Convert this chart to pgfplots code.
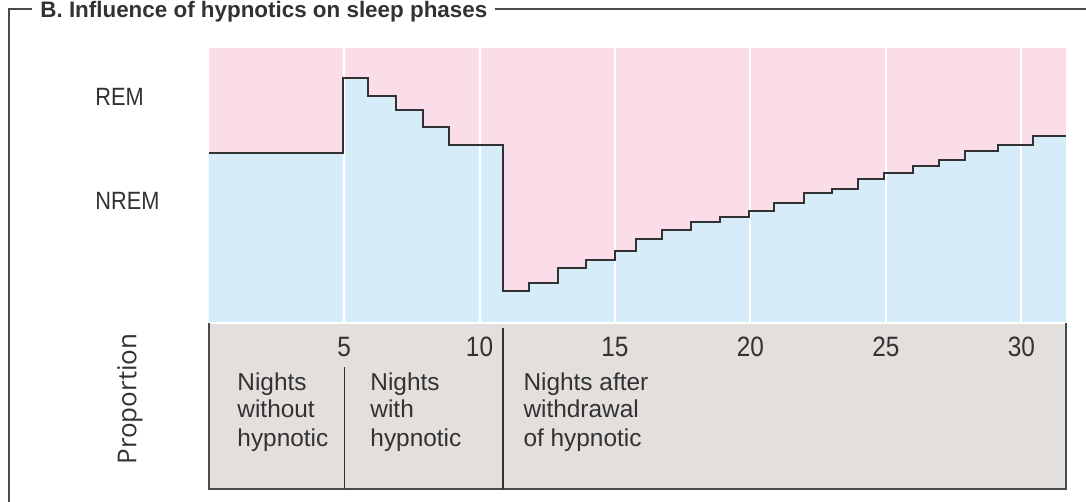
\documentclass[border=0pt]{standalone}
\usepackage{fontspec}
\setmainfont{Liberation Sans}
\newfontfamily\condfont{Liberation Sans}[FakeStretch=0.87]
\newfontfamily\propfont{Open Sans}
\usepackage{pgfplots}
\pgfplotsset{compat=1.18}
\definecolor{remp}{RGB}{251,221,233}
\definecolor{nremb}{RGB}{214,236,249}
\definecolor{boxg}{RGB}{227,223,221}
\definecolor{ink}{RGB}{50,50,50}
\definecolor{framec}{RGB}{75,75,75}
\begin{document}
\begin{tikzpicture}
\useasboundingbox (0,0) rectangle (543pt,251pt);
\begin{axis}[at={(104.3pt,6.5pt)}, anchor=south west, scale only axis,
  width=428.7pt, height=220.5pt, xmin=0, xmax=31.65, ymin=-60.36, ymax=100,
  axis lines=none, clip=false]
% REM background
\addplot[fill=remp, draw=none] coordinates {(0,0) (0,100) (31.65,100) (31.65,0)};
% NREM area
\addplot[const plot, fill=nremb, draw=none] coordinates {
(0,0) (0,61.7) (4.96,89.0) (5.87,82.5) (6.93,77.5) (7.93,71.4) (8.89,64.6)
(10.87,11.7) (11.83,14.4) (12.9,19.9) (13.94,22.9) (15.0,26.3) (15.78,30.4)
(16.74,33.8) (17.81,36.7) (18.88,38.4) (19.95,40.7) (20.88,43.7) (21.98,47.2)
(23.01,48.8) (23.97,52.4) (24.94,54.7) (26.01,57.1) (26.97,59.3) (27.93,62.7)
(29.15,64.6) (30.44,68.0) (31.65,68.0) (31.65,0)};
% gray box
\addplot[fill=boxg, draw=none] coordinates {(0,-60.36) (0,0) (31.65,0) (31.65,-60.36)};
% white grid lines
\pgfplotsinvokeforeach{5,10,15,20,25,30}{
  \addplot[white, line width=1pt] coordinates {(#1,0) (#1,100)};
}
\addplot[white, line width=0.8pt] coordinates {(0,0) (31.65,0)};
% box border
\addplot[framec, line width=0.9pt] coordinates {(0,0) (0,-60.36) (31.65,-60.36) (31.65,0)};
% dividers
\addplot[ink, line width=0.8pt] coordinates {(5.02,-16) (5.02,-60.36)};
\addplot[ink, line width=0.8pt] coordinates {(10.87,-1.8) (10.87,-60.36)};
% step line
\addplot[const plot, ink, line width=1pt] coordinates {
(0,61.7) (4.96,89.0) (5.87,82.5) (6.93,77.5) (7.93,71.4) (8.89,64.6)
(10.87,11.7) (11.83,14.4) (12.9,19.9) (13.94,22.9) (15.0,26.3) (15.78,30.4)
(16.74,33.8) (17.81,36.7) (18.88,38.4) (19.95,40.7) (20.88,43.7) (21.98,47.2)
(23.01,48.8) (23.97,52.4) (24.94,54.7) (26.01,57.1) (26.97,59.3) (27.93,62.7)
(29.15,64.6) (30.44,68.0) (31.65,68.0)};
% tick numbers
\pgfplotsinvokeforeach{5,10,15,20,25,30}{
  \node[font=\condfont\fontsize{14}{14}\selectfont, text=ink, inner sep=0] at (axis cs:#1,-8.7) {#1};
}
% phase labels
\tikzset{ph/.style={anchor=base west, inner sep=0, text=ink, font=\fontsize{12.2}{12.2}\selectfont}}
\node[ph] at (axis cs:1.05,-24.4) {Nights};
\node[ph] at (axis cs:1.05,-34.5) {without};
\node[ph] at (axis cs:1.05,-45.0) {hypnotic};
\node[ph] at (axis cs:5.96,-24.4) {Nights};
\node[ph] at (axis cs:5.96,-34.5) {with};
\node[ph] at (axis cs:5.96,-45.0) {hypnotic};
\node[ph] at (axis cs:11.61,-24.4) {Nights after};
\node[ph] at (axis cs:11.61,-34.5) {withdrawal};
\node[ph] at (axis cs:11.61,-45.0) {of hypnotic};
\end{axis}
% side labels
\node[anchor=base west, inner sep=0, text=ink, font=\condfont\fontsize{12.5}{12.5}\selectfont] at (47.5pt,198pt) {REM};
\node[anchor=base west, inner sep=0, text=ink, font=\condfont\fontsize{12.5}{12.5}\selectfont] at (47.5pt,146pt) {NREM};
\node[rotate=90, inner sep=0, text=ink, font=\propfont\fontsize{13}{13}\selectfont] at (65pt,51.5pt) {Proportion};
% frame
\draw[framec, line width=1pt] (16pt,246.5pt) -- (4.5pt,246.5pt) -- (4.5pt,0pt);
\draw[framec, line width=1pt] (247.5pt,246.5pt) -- (543pt,246.5pt);
\node[anchor=base west, inner sep=0, text=ink, font=\bfseries\fontsize{11.2}{11.2}\selectfont] at (20pt,242.3pt) {B. Influence of hypnotics on sleep phases};
\end{tikzpicture}
\end{document}
